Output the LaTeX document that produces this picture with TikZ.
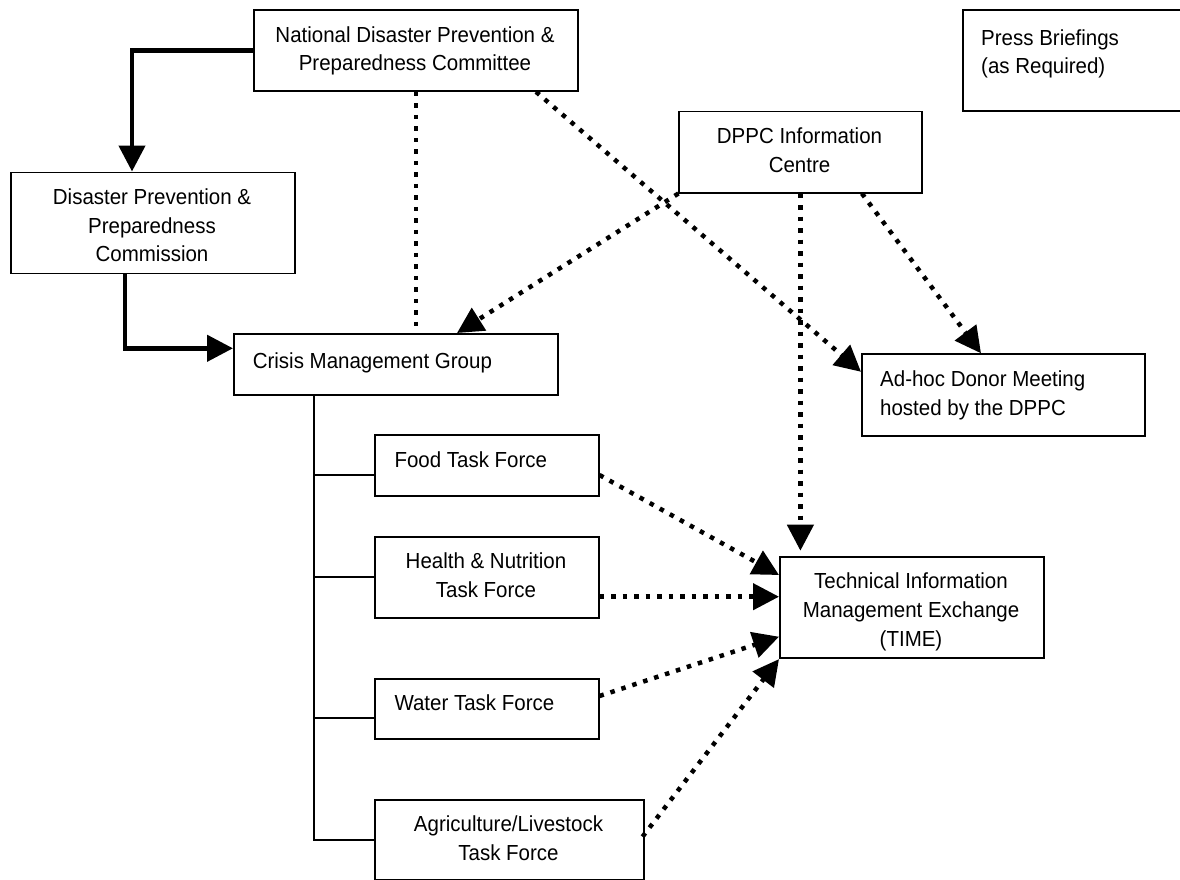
\documentclass[tikz,border=0pt]{standalone}
\usepackage{fontspec}
\setmainfont{Liberation Sans}[FakeStretch=0.94]
\usetikzlibrary{arrows.meta,calc}
\begin{document}
\begin{tikzpicture}[x=1pt,y=-1pt,
  box/.style={draw, line width=1.8pt, inner sep=0pt, anchor=north west},
  txt/.style={inner sep=0pt, font=\fontsize{21.8}{28.6}\selectfont},
  thinline/.style={line width=1.8pt},
  solidarrow/.style={line width=4.5pt, -{Triangle[length=26pt,width=26pt]}},
  dotline/.style={line width=4.5pt, dash pattern=on 4.5pt off 7pt},
  dotarrow/.style={dotline, -{Triangle[length=26pt,width=26pt]}},
]
\useasboundingbox (0,0) rectangle (1180,880);
\clip (0,0) rectangle (1180,880);

% boxes
\node[box, minimum width=324pt, minimum height=81pt] (ndppc) at (253,9) {};
\node[box, minimum width=240pt, minimum height=100.7pt] (press) at (962,9.3) {};
\node[box, minimum width=243pt, minimum height=81pt] (dpic) at (678.4,110.7) {};
\node[box, minimum width=284.3pt, minimum height=101pt] (dppcom) at (10,171.5) {};
\node[box, minimum width=324pt, minimum height=61pt] (cmg) at (233,333) {};
\node[box, minimum width=283pt, minimum height=81.7pt] (adhoc) at (861,353.3) {};
\node[box, minimum width=223.4pt, minimum height=61pt] (food) at (374.3,434.3) {};
\node[box, minimum width=223.4pt, minimum height=81pt] (health) at (374.3,535.7) {};
\node[box, minimum width=264pt, minimum height=101.6pt] (time) at (779,555.7) {};
\node[box, minimum width=223.4pt, minimum height=60pt] (water) at (374.3,677.7) {};
\node[box, minimum width=268.4pt, minimum height=79.7pt] (agri) at (374.3,799.3) {};

% texts (multi-line: base anchor = last line's baseline)
\node[txt, anchor=base, align=center] (tndppc) at (415,71) {National Disaster Prevention \&\\Preparedness Committee};
\node[txt, anchor=base west, align=left] (tpress) at (981,74) {Press Briefings\\(as Required)};
\node[txt, anchor=base, align=center] (tdpic) at (799.5,172.3) {DPPC Information\\Centre};
\node[txt, anchor=base, align=center] (tdppcom) at (152,261.7) {Disaster Prevention \&\\Preparedness\\Commission};
\node[txt, anchor=base west] (tcmg) at (252.6,368) {Crisis Management Group};
\node[txt, anchor=base west, align=left] (tadhoc) at (880,415) {Ad-hoc Donor Meeting\\hosted by the DPPC};
\node[txt, anchor=base west] (tfood) at (394.3,467.3) {Food Task Force};
\node[txt, anchor=base, align=center] (thealth) at (486,597.3) {Health \& Nutrition\\Task Force};
\node[txt, anchor=base, align=center] (ttime) at (911,646) {Technical Information\\Management Exchange\\(TIME)};
\node[txt, anchor=base west] (twater) at (394.3,710) {Water Task Force};
\node[txt, anchor=base, align=center] (tagri) at (508.5,860) {Agriculture/Livestock\\Task Force};

% solid arrows
\draw[solidarrow] (ndppc.west) -| ($(dppcom.north west)+(122,0)$);
\draw[solidarrow] ($(dppcom.south west)+(115,0)$) |- ($(cmg.north west)+(0,15.3)$);

% tree
\coordinate (trunk) at ($(cmg.south west)+(81,0)$);
\draw[thinline] (trunk) |- (agri.west);
\coordinate (fb) at ($(food.north west)+(0,40.7)$);
\draw[thinline] (fb) -- (fb -| trunk);
\draw[thinline] (health.west) -- (health.west -| trunk);
\coordinate (wb) at ($(water.north west)+(0,40)$);
\draw[thinline] (wb) -- (wb -| trunk);

% dotted connectors
\draw[dotline] (ndppc.south) -- (ndppc.south |- cmg.north);
\draw[dotarrow] (dpic.south west) -- ($(cmg.north west)+(224,0)$);
\draw[dotarrow] ($(ndppc.south west)+(283,0)$) -- ($(adhoc.north west)+(0,18.5)$);
\coordinate (dv) at ($(dpic.south west)+(122,0)$);
\draw[dotarrow] (dv) -- ($(dv |- time.north)+(0,-5)$);
\draw[dotarrow] ($(dpic.south west)+(183.5,0)$) -- ($(adhoc.north west)+(120,0)$);
\draw[dotarrow] ($(food.north east)+(0,40.7)$) -- ($(time.north west)+(0,19.3)$);
\coordinate (hs) at ($(health.north east)+(0,61)$);
\draw[dotarrow] (hs) -- (hs -| time.west);
\draw[dotarrow] ($(water.north east)+(0,18.3)$) -- ($(time.north west)+(0,81)$);
\draw[dotarrow] ($(agri.north east)+(-2,37.4)$) -- (time.south west);
\end{tikzpicture}
\end{document}
